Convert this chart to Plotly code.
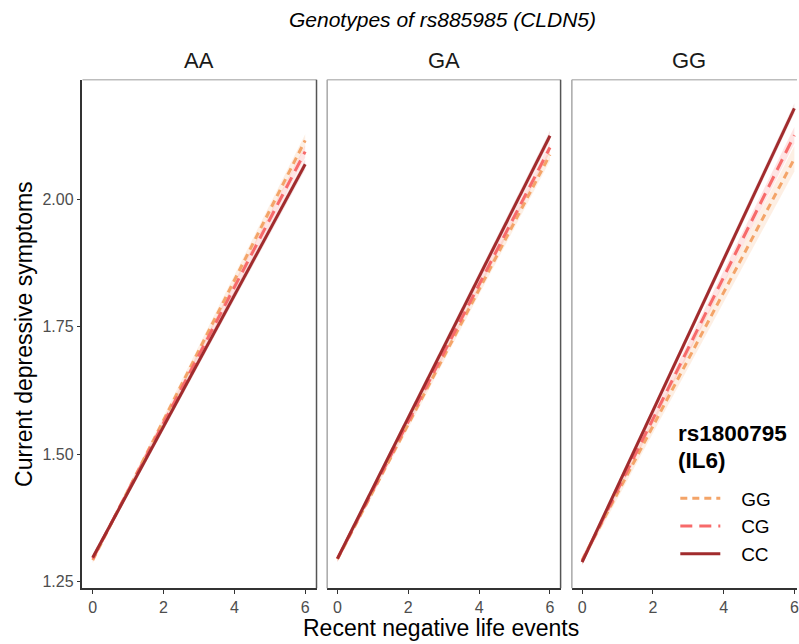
import plotly.graph_objects as go

# ---------------- data ----------------
panels = ["AA", "GA", "GG"]              # rs885985 (CLDN5) genotypes
groups = ["GG", "CG", "CC"]              # rs1800795 (IL6) genotypes
events = [0, 6]                          # recent negative life events

# predicted depressive symptoms at events = 0 and 6
pred_AA = {"GG": [1.292, 2.116], "CG": [1.295, 2.094], "CC": [1.297, 2.069]}
pred_GA = {"GG": [1.294, 2.088], "CG": [1.295, 2.102], "CC": [1.295, 2.125]}
pred_GG = {"GG": [1.292, 2.080], "CG": [1.290, 2.126], "CC": [1.288, 2.179]}
# half widths of confidence band at events = 0 and 6
ci_AA = {"GG": [0.006, 0.012], "CG": [0.006, 0.012], "CC": [0.006, 0.010]}
ci_GA = {"GG": [0.006, 0.012], "CG": [0.006, 0.010], "CC": [0.006, 0.010]}
ci_GG = {"GG": [0.008, 0.025], "CG": [0.007, 0.016], "CC": [0.006, 0.010]}

y_ticks = [1.25, 1.50, 1.75, 2.00]
y_ticktext = ["1.25", "1.50", "1.75", "2.00"]
x_ticks = [0, 2, 4, 6]

preds = [pred_AA, pred_GA, pred_GG]
cis = [ci_AA, ci_GA, ci_GG]

colors = {"GG": "#F4A468", "CG": "#F76A6A", "CC": "#A12B2D"}
fills = {"GG": "rgba(244,164,104,0.18)", "CG": "rgba(247,106,106,0.18)", "CC": "rgba(161,43,45,0.12)"}
dashes = {"GG": "7px,5px", "CG": "12px,7px", "CC": "solid"}

W, H = 799, 644
FONT = "Liberation Sans, Arial, sans-serif"
NB = "\u00a0"

# panel pixel positions
px_x = [(82.7, 317.3), (328.0, 562.0), (573.3, 799.0)]
xranges = [[-0.29, 6.32], [-0.29, 6.30], [-0.29, 6.075]]
py_top, py_bot = 80, 590
yrange = [1.2369, 2.235]

fig = go.Figure()

for i, (pname, pred, ci) in enumerate(zip(panels, preds, cis)):
    xa = "x" if i == 0 else f"x{i+1}"
    ya = "y" if i == 0 else f"y{i+1}"
    for g in groups:
        lo = [p - c for p, c in zip(pred[g], ci[g])]
        hi = [p + c for p, c in zip(pred[g], ci[g])]
        fig.add_trace(go.Scatter(x=events, y=lo, mode="lines", line=dict(width=0),
                                 hoverinfo="skip", showlegend=False, xaxis=xa, yaxis=ya))
        fig.add_trace(go.Scatter(x=events, y=hi, mode="lines", line=dict(width=0),
                                 fill="tonexty", fillcolor=fills[g],
                                 hoverinfo="skip", showlegend=False, xaxis=xa, yaxis=ya))
    for g in groups:
        fig.add_trace(go.Scatter(x=events, y=pred[g], mode="lines", name=NB * 3 + g,
                                 line=dict(color=colors[g], width=3, dash=dashes[g]),
                                 showlegend=(i == 2), xaxis=xa, yaxis=ya))

layout = dict(
    width=W, height=H,
    margin=dict(l=0, r=0, t=0, b=0),
    paper_bgcolor="white", plot_bgcolor="white",
    font=dict(family=FONT, color="#000000"),
    showlegend=True,
    legend=dict(x=677 / W, y=1 - 481 / H, xanchor="left", yanchor="top",
                font=dict(size=19, color="#000000", family=FONT),
                bgcolor="rgba(0,0,0,0)", itemwidth=40, tracegroupgap=0,
                traceorder="normal"),
)

for i in range(3):
    xk = "xaxis" if i == 0 else f"xaxis{i+1}"
    yk = "yaxis" if i == 0 else f"yaxis{i+1}"
    x0, x1 = px_x[i]
    layout[xk] = dict(domain=[x0 / W, min(x1 / W, 1.0)], range=xranges[i],
                      anchor="y" if i == 0 else f"y{i+1}",
                      tickvals=x_ticks, ticks="outside", ticklen=4, tickwidth=1.2,
                      tickcolor="#333333", showline=True, linecolor="#333333", linewidth=1.5,
                      showgrid=False, zeroline=False, ticklabeloverflow="allow",
                      tickfont=dict(size=16, color="#4D4D4D", family=FONT))
    yd = [1 - py_bot / H, 1 - py_top / H]
    if i == 0:
        layout[yk] = dict(domain=yd, range=yrange, anchor="x",
                          tickvals=y_ticks, ticktext=y_ticktext, ticks="outside", ticklen=4,
                          tickwidth=1.2, tickcolor="#333333", showline=True,
                          linecolor="#333333", linewidth=1.5, showgrid=False, zeroline=False,
                          tickfont=dict(size=16, color="#4D4D4D", family=FONT))
    else:
        layout[yk] = dict(domain=yd, range=yrange, anchor=f"x{i+1}", matches="y",
                          showticklabels=False, ticks="", showline=False,
                          showgrid=False, zeroline=False)

fig.update_layout(**layout)

# panel borders: light top / left, darker right
shapes = []
for i in range(3):
    xr = "x domain" if i == 0 else f"x{i+1} domain"
    yr = "y domain" if i == 0 else f"y{i+1} domain"
    shapes.append(dict(type="line", xref=xr, yref=yr, x0=0, x1=1, y0=1, y1=1,
                       line=dict(color="#BDBDBD", width=1.5)))
    if i > 0:
        shapes.append(dict(type="line", xref=xr, yref=yr, x0=0, x1=0, y0=0, y1=1,
                           line=dict(color="#A8A8A8", width=1.5)))
    if i < 2:
        shapes.append(dict(type="line", xref=xr, yref=yr, x0=1, x1=1, y0=0, y1=1,
                           line=dict(color="#555555", width=1.5)))
fig.update_layout(shapes=shapes)

ann = []
# strip labels
for i, pname in enumerate(panels):
    x0, x1 = px_x[i]
    cx = (x0 + x1) / 2 if i < 2 else (x0 + 808) / 2
    ann.append(dict(text=pname, x=cx / W, y=1 - 61 / H, xref="paper", yref="paper",
                    xanchor="center", yanchor="middle", showarrow=False,
                    font=dict(size=22, color="#1A1A1A", family=FONT)))
# main title
ann.append(dict(text="<i>Genotypes of rs885985 (CLDN5)</i>", x=444 / W, y=1 - 20 / H,
                xref="paper", yref="paper", xanchor="center", yanchor="middle",
                showarrow=False, font=dict(size=21, color="#000000", family=FONT)))
# axis titles
ann.append(dict(text="Recent negative life events", x=442 / W, y=1 - 630 / H,
                xref="paper", yref="paper", xanchor="center", yanchor="middle",
                showarrow=False, font=dict(size=23, color="#000000", family=FONT)))
ann.append(dict(text="Current depressive symptoms", x=24 / W, y=1 - 335 / H,
                xref="paper", yref="paper", xanchor="center", yanchor="middle",
                textangle=-90, showarrow=False,
                font=dict(size=23, color="#000000", family=FONT)))
# legend title (two lines)
for txt, yc in [("<b>rs1800795</b>", 435), ("<b>(IL6)</b>", 462)]:
    ann.append(dict(text=txt, x=678 / W, y=1 - yc / H,
                    xref="paper", yref="paper", xanchor="left", yanchor="middle", align="left",
                    showarrow=False, font=dict(size=22.5, color="#000000", family=FONT)))
fig.update_layout(annotations=ann)

fig.write_html("out.html", config={"displayModeBar": False},
               post_script="document.body.style.margin='0';document.body.style.overflow='hidden';")
